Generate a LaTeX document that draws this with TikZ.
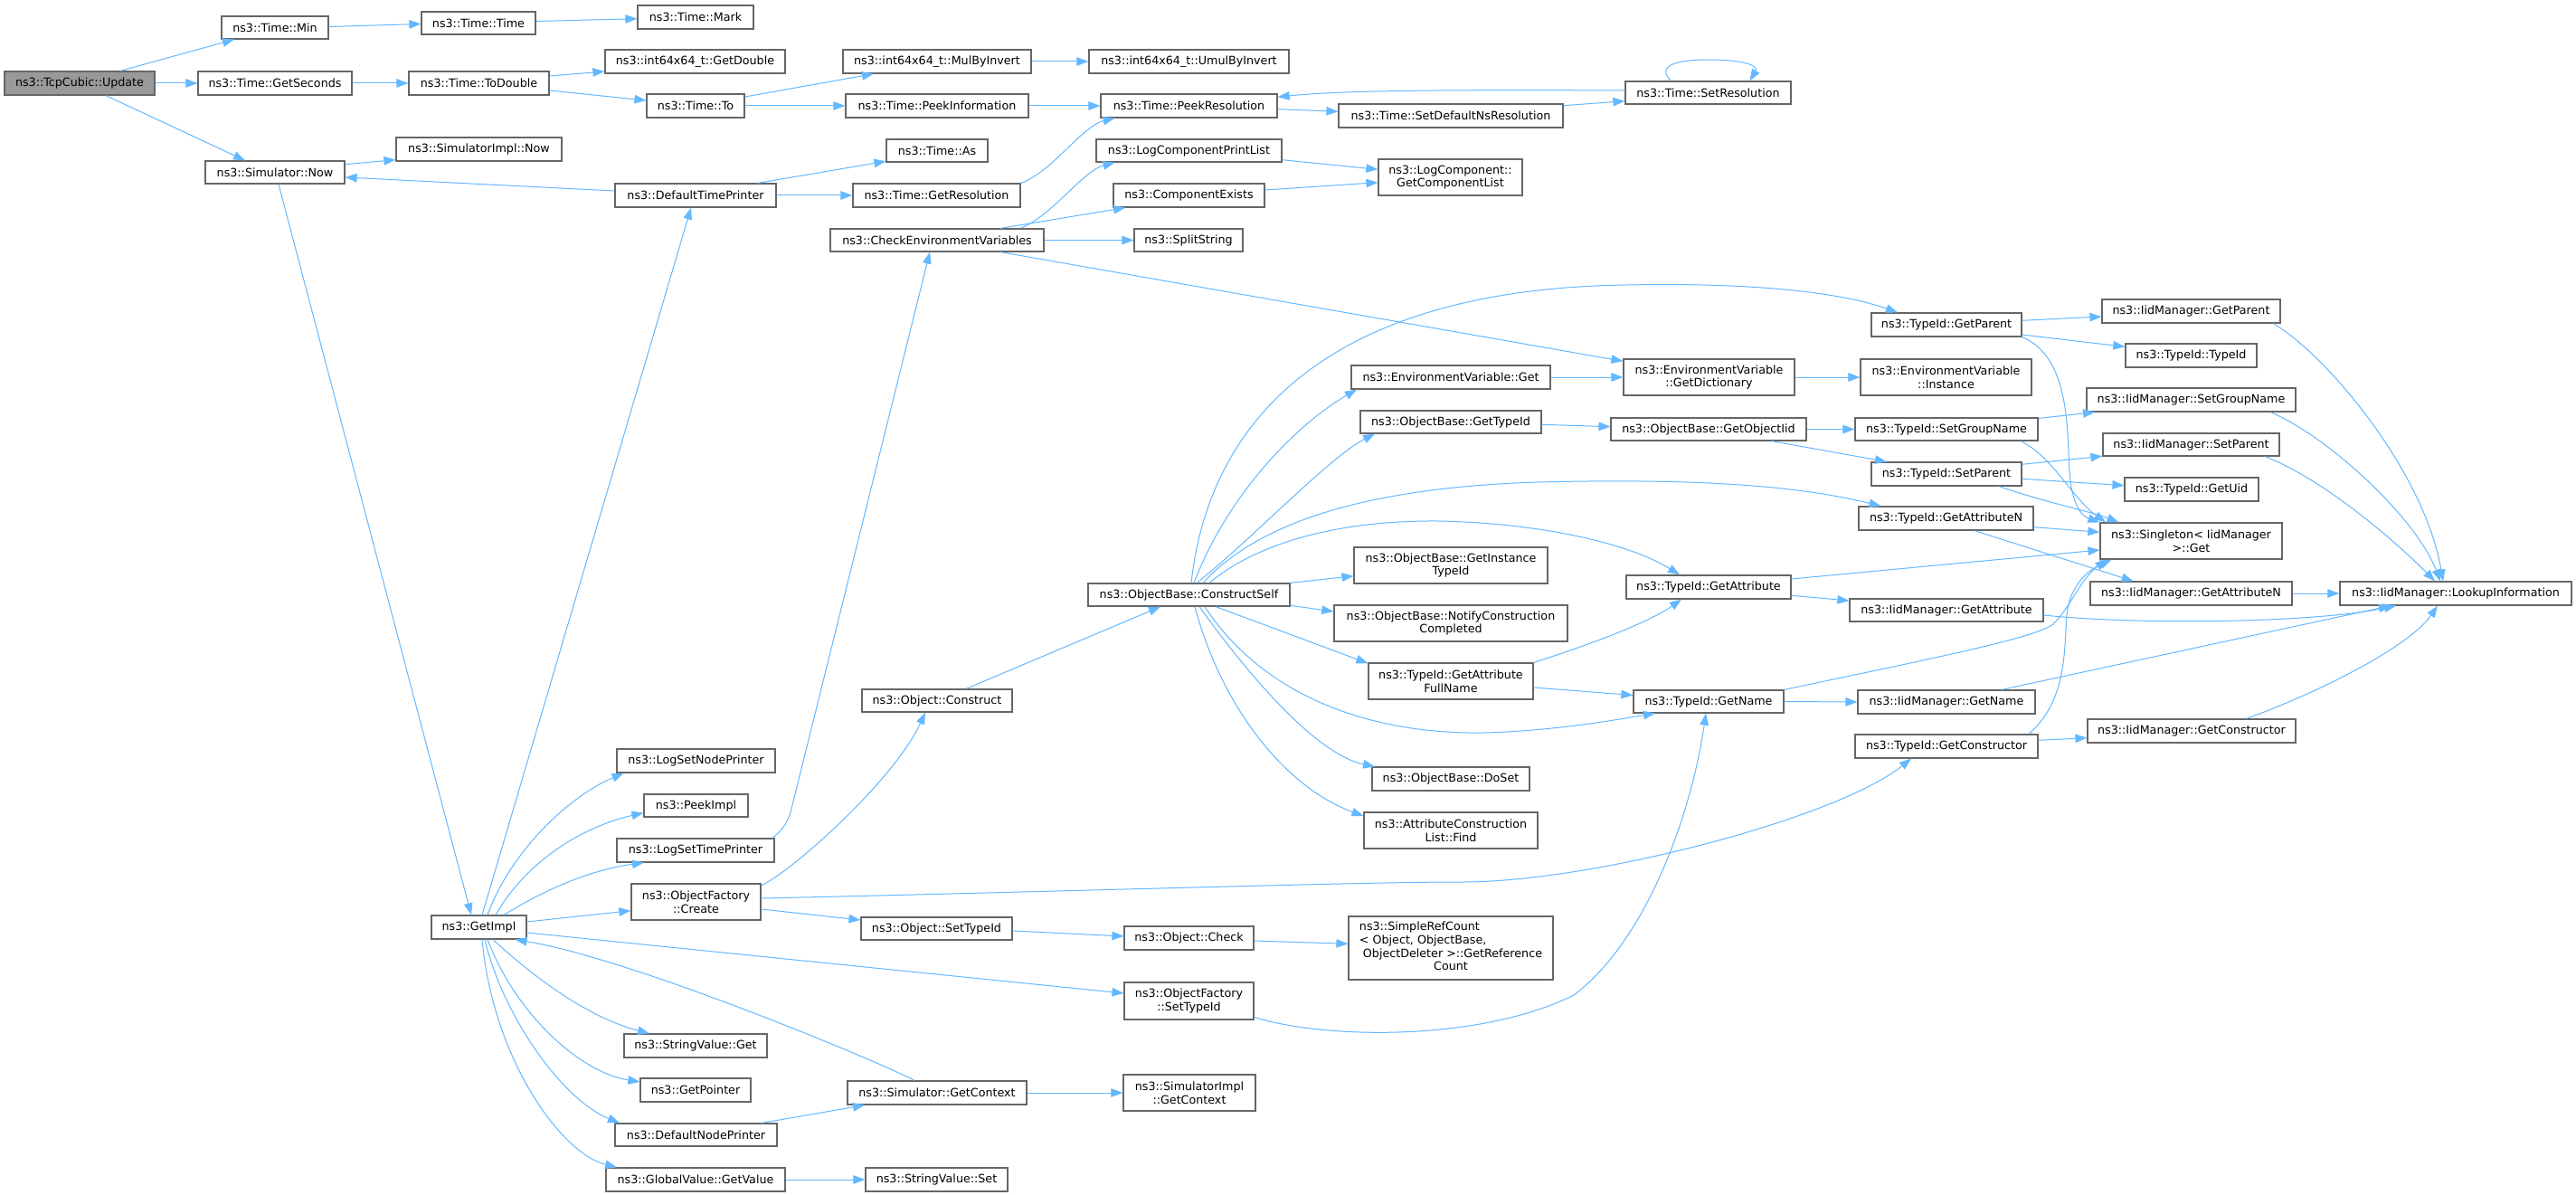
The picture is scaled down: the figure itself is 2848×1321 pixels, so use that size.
\documentclass[tikz,border=0pt]{standalone}
\usepackage{fontspec}
\setmainfont{DejaVu Sans}
\usetikzlibrary{arrows.meta}
\definecolor{edgec}{HTML}{63B8FF}
\definecolor{boxc}{HTML}{666666}
\definecolor{rootc}{HTML}{999999}
\tikzset{
  nb/.style={draw=boxc, line width=1.2pt, fill=white, inner sep=0pt, align=center, font=\fontsize{12.7}{14.7}\selectfont},
  rootbox/.style={nb, fill=rootc},
  e/.style={draw=edgec, line width=1pt, -{Triangle[length=13pt,width=9.5pt]}}
}
\begin{document}
\begin{tikzpicture}[x=1pt,y=-1pt]
\fill[white] (0,0) rectangle (2848,1321);
\useasboundingbox (0,0) rectangle (2848,1321);
% nodes
\node[rootbox,minimum width=166,minimum height=26] (upd) at (88,92) {ns3::TcpCubic::Update};
\node[nb,minimum width=118,minimum height=25] (tmin) at (304,30.5) {ns3::Time::Min};
\node[nb,minimum width=126,minimum height=25] (ttime) at (529,25.5) {ns3::Time::Time};
\node[nb,minimum width=128,minimum height=26] (tmark) at (769,19) {ns3::Time::Mark};
\node[nb,minimum width=170,minimum height=26] (getsec) at (304,92) {ns3::Time::GetSeconds};
\node[nb,minimum width=155,minimum height=26] (todbl) at (529.5,92) {ns3::Time::ToDouble};
\node[nb,minimum width=199,minimum height=26] (getdbl) at (768.5,68) {ns3::int64x64\_t::GetDouble};
\node[nb,minimum width=208,minimum height=26] (mulinv) at (1036,68) {ns3::int64x64\_t::MulByInvert};
\node[nb,minimum width=221,minimum height=26] (umulinv) at (1314.5,68) {ns3::int64x64\_t::UmulByInvert};
\node[nb,minimum width=108,minimum height=26] (tto) at (769,117) {ns3::Time::To};
\node[nb,minimum width=202,minimum height=26] (peekinfo) at (1036,117) {ns3::Time::PeekInformation};
\node[nb,minimum width=195,minimum height=26] (peekres) at (1314.5,117) {ns3::Time::PeekResolution};
\node[nb,minimum width=248,minimum height=26] (setdef) at (1604,128) {ns3::Time::SetDefaultNsResolution};
\node[nb,minimum width=183,minimum height=25] (setres) at (1888.5,102.5) {ns3::Time::SetResolution};
\node[nb,minimum width=183,minimum height=26] (simimplnow) at (529.5,165) {ns3::SimulatorImpl::Now};
\node[nb,minimum width=154,minimum height=25] (simnow) at (304,190.5) {ns3::Simulator::Now};
\node[nb,minimum width=112,minimum height=25] (tas) at (1036,166.5) {ns3::Time::As};
\node[nb,minimum width=205,minimum height=25] (lcpl) at (1314.5,166.5) {ns3::LogComponentPrintList};
\node[nb,minimum width=159,minimum height=40] (gcl) at (1603.5,196) {ns3::LogComponent::\\GetComponentList};
\node[nb,minimum width=178,minimum height=26] (dtp) at (769,216) {ns3::DefaultTimePrinter};
\node[nb,minimum width=185,minimum height=26] (getres) at (1035.5,216) {ns3::Time::GetResolution};
\node[nb,minimum width=167,minimum height=26] (compex) at (1314.5,216) {ns3::ComponentExists};
\node[nb,minimum width=236,minimum height=25] (cev) at (1036,265.5) {ns3::CheckEnvironmentVariables};
\node[nb,minimum width=120,minimum height=25] (split) at (1314,265.5) {ns3::SplitString};
\node[nb,minimum width=220,minimum height=26] (evget) at (1604,417) {ns3::EnvironmentVariable::Get};
\node[nb,minimum width=189,minimum height=40] (evdict) at (1889.5,417) {ns3::EnvironmentVariable\\::GetDictionary};
\node[nb,minimum width=189,minimum height=40] (evinst) at (2151.5,417) {ns3::EnvironmentVariable\\::Instance};
\node[nb,minimum width=200,minimum height=25] (obgettid) at (1604,466.5) {ns3::ObjectBase::GetTypeId};
\node[nb,minimum width=216,minimum height=25] (obgetiid) at (1889,474.5) {ns3::ObjectBase::GetObjectIid};
\node[nb,minimum width=166,minimum height=26] (tgetparent) at (2152,359) {ns3::TypeId::GetParent};
\node[nb,minimum width=197,minimum height=26] (igetparent) at (2422.5,344) {ns3::IidManager::GetParent};
\node[nb,minimum width=145,minimum height=26] (ttypeid) at (2422.5,393) {ns3::TypeId::TypeId};
\node[nb,minimum width=231,minimum height=26] (isetgroup) at (2422.5,442) {ns3::IidManager::SetGroupName};
\node[nb,minimum width=202,minimum height=25] (tsetgroup) at (2152,474.5) {ns3::TypeId::SetGroupName};
\node[nb,minimum width=195,minimum height=25] (isetparent) at (2422.5,491.5) {ns3::IidManager::SetParent};
\node[nb,minimum width=166,minimum height=26] (tsetparent) at (2152,524) {ns3::TypeId::SetParent};
\node[nb,minimum width=148,minimum height=26] (tgetuid) at (2423,541) {ns3::TypeId::GetUid};
\node[nb,minimum width=193,minimum height=26] (tgetattrn) at (2151.5,573) {ns3::TypeId::GetAttributeN};
\node[nb,minimum width=201,minimum height=40] (singleton) at (2422.5,598) {ns3::Singleton< IidManager\\ >::Get};
\node[nb,minimum width=223,minimum height=26] (igetattrn) at (2422.5,656) {ns3::IidManager::GetAttributeN};
\node[nb,minimum width=256,minimum height=26] (lookup) at (2715,656) {ns3::IidManager::LookupInformation};
\node[nb,minimum width=182,minimum height=26] (tgetattr) at (1889,649) {ns3::TypeId::GetAttribute};
\node[nb,minimum width=214,minimum height=25] (igetattr) at (2152,674.5) {ns3::IidManager::GetAttribute};
\node[nb,minimum width=214,minimum height=40] (gitid) at (1604,625) {ns3::ObjectBase::GetInstance\\TypeId};
\node[nb,minimum width=223,minimum height=25] (cself) at (1314.5,657.5) {ns3::ObjectBase::ConstructSelf};
\node[nb,minimum width=258,minimum height=40] (notify) at (1604,689) {ns3::ObjectBase::NotifyConstruction\\Completed};
\node[nb,minimum width=182,minimum height=40] (gafn) at (1604,753) {ns3::TypeId::GetAttribute\\FullName};
\node[nb,minimum width=166,minimum height=25] (oconstruct) at (1036,774.5) {ns3::Object::Construct};
\node[nb,minimum width=166,minimum height=25] (tgetname) at (1889,775.5) {ns3::TypeId::GetName};
\node[nb,minimum width=196,minimum height=26] (igetname) at (2152,776) {ns3::IidManager::GetName};
\node[nb,minimum width=202,minimum height=26] (tgetctor) at (2152,825) {ns3::TypeId::GetConstructor};
\node[nb,minimum width=230,minimum height=26] (igetctor) at (2423,808) {ns3::IidManager::GetConstructor};
\node[nb,minimum width=174,minimum height=26] (doset) at (1604,861) {ns3::ObjectBase::DoSet};
\node[nb,minimum width=192,minimum height=40] (aclfind) at (1604,918) {ns3::AttributeConstruction\\List::Find};
\node[nb,minimum width=175,minimum height=26] (lsnp) at (769.5,841) {ns3::LogSetNodePrinter};
\node[nb,minimum width=115,minimum height=25] (peekimpl) at (769.5,890.5) {ns3::PeekImpl};
\node[nb,minimum width=174,minimum height=26] (lstp) at (769,940) {ns3::LogSetTimePrinter};
\node[nb,minimum width=143,minimum height=40] (ofcreate) at (769.5,997) {ns3::ObjectFactory\\::Create};
\node[nb,minimum width=105,minimum height=26] (getimpl) at (529.5,1025) {ns3::GetImpl};
\node[nb,minimum width=167,minimum height=25] (osettid) at (1035.5,1026.5) {ns3::Object::SetTypeId};
\node[nb,minimum width=143,minimum height=26] (ocheck) at (1314.5,1037) {ns3::Object::Check};
\node[nb,minimum width=226,minimum height=70] (srefcount) at (1604,1048) {\begin{tabular}{@{}l@{}}ns3::SimpleRefCount\\< Object, ObjectBase,\\\hspace{4pt}ObjectDeleter >::GetReference\\\multicolumn{1}{@{}c@{}}{Count}\end{tabular}};
\node[nb,minimum width=143,minimum height=41] (ofsettid) at (1314.5,1106.5) {ns3::ObjectFactory\\::SetTypeId};
\node[nb,minimum width=198,minimum height=26] (simgetctx) at (1036,1208) {ns3::Simulator::GetContext};
\node[nb,minimum width=146,minimum height=40] (simimplgetctx) at (1315,1208) {ns3::SimulatorImpl\\::GetContext};
\node[nb,minimum width=158,minimum height=26] (sget) at (769,1156) {ns3::StringValue::Get};
\node[nb,minimum width=122,minimum height=26] (getptr) at (769,1205) {ns3::GetPointer};
\node[nb,minimum width=179,minimum height=25] (dnp) at (769.5,1254.5) {ns3::DefaultNodePrinter};
\node[nb,minimum width=198,minimum height=26] (gvget) at (769,1304) {ns3::GlobalValue::GetValue};
\node[nb,minimum width=157,minimum height=26] (sset) at (1035.5,1304) {ns3::StringValue::Set};
% edges
\draw[e] ([shift={(45,0)}]upd.north) -- ([shift={(-45,0)}]tmin.south);
\draw[e] (upd.east) -- (getsec.west);
\draw[e] ([shift={(29,0)}]upd.south) -- ([shift={(-33,0)}]simnow.north);
\draw[e] ([shift={(0,-1)}]tmin.east) -- ([shift={(0,1)}]ttime.west);
\draw[e] ([shift={(0,-2)}]ttime.east) -- ([shift={(0,1.7)}]tmark.west);
\draw[e] (getsec.east) -- (todbl.west);
\draw[e] ([shift={(0,-8)}]todbl.east) -- ([shift={(0,11)}]getdbl.west);
\draw[e] ([shift={(0,8)}]todbl.east) -- ([shift={(0,-6)}]tto.west);
\draw[e] ([shift={(0,-10)}]tto.east) -- ([shift={(-70,0)}]mulinv.south);
\draw[e] (tto.east) -- (peekinfo.west);
\draw[e] (mulinv.east) -- (umulinv.west);
\draw[e] (peekinfo.east) -- (peekres.west);
\draw[e] ([shift={(0,3.7)}]peekres.east) -- ([shift={(0,-4.7)}]setdef.west);
\draw[e] ([shift={(0,-11.3)}]setdef.east) -- ([shift={(0,9.2)}]setres.west);
\draw[e] ([shift={(0,-2.5)}]setres.west) .. controls (1600,99) and (1480,100) .. ([shift={(0,-9.7)}]peekres.east);
\draw[e] ([shift={(-41,0)}]setres.north) .. controls (1830,72) and (1855,66) .. (1889,66) .. controls (1925,66) and (1945,72) .. ([shift={(46,0)}]setres.north);
\draw[e] ([shift={(0,-8.8)}]simnow.east) -- ([shift={(0,11.7)}]simimplnow.west);
\draw[e] ([shift={(0,-5)}]dtp.west) -- ([shift={(0,5.5)}]simnow.east);
\draw[e] ([shift={(68.7,0)}]dtp.north) -- ([shift={(0,11.8)}]tas.west);
\draw[e] (dtp.east) -- (getres.west);
\draw[e] (getres.north east) .. controls (1162,191) and (1197,139) .. ([shift={(-82,0)}]peekres.south);
\draw[e] ([shift={(-27,0)}]cev.north east) .. controls (1162,240) and (1197,189) .. ([shift={(-82,0)}]lcpl.south);
\draw[e] ([shift={(70,0)}]cev.north) -- ([shift={(-70.5,0)}]compex.south);
\draw[e] (cev.east) -- (split.west);
\draw[e] ([shift={(70,0)}]cev.south) -- ([shift={(0,-17.7)}]evdict.west);
\draw[e] ([shift={(0,10.2)}]lcpl.east) -- ([shift={(0,-8.7)}]gcl.west);
\draw[e] ([shift={(0,-6)}]compex.east) -- ([shift={(0,5.7)}]gcl.west);
\draw[e] ([shift={(4,0)}]simnow.south) -- ([shift={(-8.5,0)}]getimpl.north);
\draw[e] ([shift={(3.5,0)}]getimpl.north) -- ([shift={(-5,0)}]dtp.south);
\draw[e] ([shift={(9.5,0)}]getimpl.north) .. controls (565,940) and (630,880) .. ([shift={(-80,0)}]lsnp.south);
\draw[e] ([shift={(18.5,0)}]getimpl.north) .. controls (580,955) and (640,915) .. ([shift={(0,8)}]peekimpl.west);
\draw[e] ([shift={(27.5,0)}]getimpl.north) .. controls (600,985) and (650,962) .. ([shift={(-57,0)}]lstp.south);
\draw[e] ([shift={(85,0)}]lstp.north) .. controls (868,915) and (873,905) .. (876,890) -- ([shift={(-8,0)}]cev.south);
\draw[e] ([shift={(0,-6)}]getimpl.east) -- ([shift={(0,9.7)}]ofcreate.west);
\draw[e] ([shift={(0,6)}]getimpl.east) -- ([shift={(0,-8.5)}]ofsettid.west);
\draw[e] ([shift={(-25,0)}]simgetctx.north) .. controls (975,1175) and (700,1060) .. ([shift={(40,0)}]getimpl.south);
\draw[e] ([shift={(15.5,0)}]getimpl.south) .. controls (590,1080) and (650,1125) .. ([shift={(-51,0)}]sget.north);
\draw[e] ([shift={(9.5,0)}]getimpl.south) .. controls (570,1120) and (640,1185) .. ([shift={(0,-9)}]getptr.west);
\draw[e] ([shift={(6.5,0)}]getimpl.south) .. controls (555,1120) and (620,1215) .. ([shift={(-84.5,0)}]dnp.north);
\draw[e] ([shift={(3.5,0)}]getimpl.south) .. controls (545,1170) and (620,1275) .. ([shift={(-87,0)}]gvget.north);
\draw[e] ([shift={(0,-18)}]ofcreate.east) .. controls (880,960) and (990,860) .. ([shift={(-13,0)}]oconstruct.south);
\draw[e] ([shift={(0,8)}]ofcreate.east) -- ([shift={(0,-9.5)}]osettid.west);
\draw[e] ([shift={(0,-4)}]ofcreate.east) .. controls (1200,985) and (1500,975) .. (1617,975) .. controls (1760,975) and (2030,905) .. ([shift={(-39,0)}]tgetctor.south);
\draw[e] ([shift={(32,0)}]oconstruct.north) -- ([shift={(-31.5,0)}]cself.south);
\draw[e] ([shift={(0,2.5)}]osettid.east) -- ([shift={(0,-2)}]ocheck.west);
\draw[e] ([shift={(0,3)}]ocheck.east) -- ([shift={(0,-4.7)}]srefcount.west);
\draw[e] ([shift={(0,18)}]ofsettid.east) .. controls (1470,1150) and (1640,1150) .. (1740,1100) .. controls (1820,1040) and (1870,900) .. ([shift={(-3,0)}]tgetname.south);
\draw[e] (simgetctx.east) -- (simimplgetctx.west);
\draw[e] ([shift={(72.5,0)}]dnp.north) -- ([shift={(-80,0)}]simgetctx.south);
\draw[e] (gvget.east) -- (sset.west);
\draw[e] ([shift={(2.5,0)}]cself.north) .. controls (1335,480) and (1450,320) .. (1798,315) .. controls (1950,312) and (2040,325) .. ([shift={(-54,0)}]tgetparent.north);
\draw[e] ([shift={(5.5,0)}]cself.north) .. controls (1360,540) and (1440,465) .. ([shift={(-104,0)}]evget.south);
\draw[e] ([shift={(8.5,0)}]cself.north) .. controls (1380,600) and (1470,505) .. ([shift={(-84,0)}]obgettid.south);
\draw[e] ([shift={(15.5,0)}]cself.north) .. controls (1380,590) and (1480,540) .. (1700,533) .. controls (1900,528) and (2000,540) .. ([shift={(-72,0)}]tgetattrn.north);
\draw[e] ([shift={(22.5,0)}]cself.north) .. controls (1390,600) and (1480,575) .. (1590,576) .. controls (1700,578) and (1800,600) .. ([shift={(-32,0)}]tgetattr.north);
\draw[e] (cself.north east) -- ([shift={(0,11.7)}]gitid.west);
\draw[e] ([shift={(0,11.8)}]cself.east) -- ([shift={(0,-13)}]notify.west);
\draw[e] ([shift={(29.5,0)}]cself.south) -- ([shift={(0,-19.7)}]gafn.west);
\draw[e] ([shift={(17.5,0)}]cself.south) .. controls (1390,760) and (1500,812) .. (1640,810) .. controls (1720,808) and (1790,795) .. ([shift={(-59,0)}]tgetname.south);
\draw[e] ([shift={(11.5,0)}]cself.south) .. controls (1390,760) and (1460,835) .. ([shift={(-84,0)}]doset.north);
\draw[e] ([shift={(6.5,0)}]cself.south) .. controls (1350,780) and (1420,870) .. ([shift={(0,-16)}]aclfind.west);
\draw[e] (gafn.north east) .. controls (1750,715) and (1820,690) .. ([shift={(-30,0)}]tgetattr.south);
\draw[e] ([shift={(0,7)}]gafn.east) -- ([shift={(0,-7)}]tgetname.west);
\draw[e] ([shift={(0,-9)}]tgetattr.east) -- ([shift={(0,10)}]singleton.west);
\draw[e] ([shift={(0,9.3)}]tgetattr.east) -- ([shift={(0,-10.5)}]igetattr.west);
\draw[e] (tgetname.east) -- (igetname.west);
\draw[e] (tgetname.north east) .. controls (2150,725) and (2250,705) .. (2270,690) .. controls (2290,670) and (2300,640) .. ([shift={(-93,0)}]singleton.south);
\draw[e] ([shift={(61,0)}]igetname.north) -- ([shift={(-72,0)}]lookup.south);
\draw[e] ([shift={(0,5.5)}]igetattr.east) .. controls (2350,690) and (2550,690) .. ([shift={(-66,0)}]lookup.south);
\draw[e] (igetattrn.east) -- (lookup.west);
\draw[e] ([shift={(60,0)}]igetctor.north) .. controls (2540,775) and (2660,720) .. ([shift={(-20,0)}]lookup.south);
\draw[e] ([shift={(0,-6.7)}]tgetctor.east) -- ([shift={(0,7.7)}]igetctor.west);
\draw[e] ([shift={(91,0)}]tgetctor.north) .. controls (2285,775) and (2282,720) .. (2285,680) .. controls (2288,650) and (2305,632) .. ([shift={(-88,0)}]singleton.south);
\draw[e] ([shift={(0,9.7)}]tgetattrn.east) -- ([shift={(0,-9.7)}]singleton.west);
\draw[e] ([shift={(31.5,0)}]tgetattrn.south) -- ([shift={(-64,0)}]igetattrn.north);
\draw[e] ([shift={(0,-4.7)}]tgetparent.east) -- ([shift={(0,6)}]igetparent.west);
\draw[e] ([shift={(0,11)}]tgetparent.east) -- ([shift={(0,-9.7)}]ttypeid.west);
\draw[e] (tgetparent.south east) .. controls (2290,395) and (2285,480) .. (2288,520) .. controls (2290,555) and (2300,570) .. (singleton.north west);
\draw[e] ([shift={(90.5,0)}]igetparent.south) .. controls (2570,390) and (2680,520) .. ([shift={(-14,0)}]lookup.north);
\draw[e] ([shift={(87.5,0)}]isetgroup.south) .. controls (2570,480) and (2670,570) .. ([shift={(-17,0)}]lookup.north);
\draw[e] ([shift={(81.5,0)}]isetparent.south) .. controls (2570,530) and (2650,600) .. ([shift={(-23,0)}]lookup.north);
\draw[e] ([shift={(0,-12)}]tsetgroup.east) -- ([shift={(-106.5,0)}]isetgroup.south);
\draw[e] ([shift={(82,0)}]tsetgroup.south) .. controls (2270,505) and (2290,550) .. ([shift={(-94.5,0)}]singleton.north);
\draw[e] ([shift={(0,-10.7)}]tsetparent.east) -- ([shift={(0,12.8)}]isetparent.west);
\draw[e] ([shift={(0,5.3)}]tsetparent.east) -- ([shift={(0,-4.3)}]tgetuid.west);
\draw[e] ([shift={(58,0)}]tsetparent.south) .. controls (2260,555) and (2310,565) .. ([shift={(-80,0)}]singleton.north);
\draw[e] (obgetiid.east) -- (tsetgroup.west);
\draw[e] ([shift={(69.6,0)}]obgetiid.south) -- ([shift={(-66,0)}]tsetparent.north);
\draw[e] ([shift={(0,2.8)}]obgettid.east) -- ([shift={(0,-2.8)}]obgetiid.west);
\draw[e] (evget.east) -- (evdict.west);
\draw[e] (evdict.east) -- (evinst.west);
\end{tikzpicture}
\end{document}
